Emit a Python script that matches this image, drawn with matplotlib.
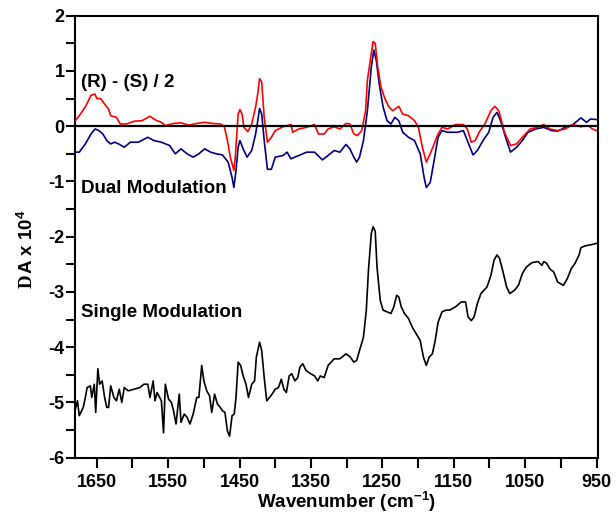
import matplotlib
matplotlib.use("Agg")
import matplotlib.pyplot as plt
import numpy as np

# ---------------- data ----------------
red_wn = [1680, 1674.5, 1666, 1658, 1652.5, 1650, 1644.5, 1639, 1633.5, 1630.5, 1622.5, 1617, 1608.5,
          1597.5, 1586.5, 1575.5, 1567.5, 1559.5, 1554, 1542.5, 1532, 1521, 1510, 1499, 1488, 1477,
          1471.5, 1467, 1463, 1458, 1456, 1452, 1449.5, 1446.5, 1444, 1438.5, 1433, 1427.5, 1424.5,
          1422, 1419, 1415.5, 1411, 1405.5, 1400, 1389, 1378, 1375.5, 1367, 1356, 1345, 1339.5,
          1331.5, 1326, 1317.5, 1309.5, 1301, 1295.5, 1290, 1285, 1279, 1273.5, 1271, 1265.5, 1263,
          1260, 1256.5, 1252, 1246.5, 1241, 1235.5, 1227, 1221.5, 1213.5, 1205, 1199.5, 1194, 1188.5,
          1183, 1177.5, 1172, 1166.5, 1158.5, 1147.5, 1136.5, 1131, 1125.5, 1120, 1114.5, 1106.5,
          1098, 1092.5, 1087, 1079, 1070.5, 1062, 1054, 1043, 1032, 1024, 1015.5, 1004.5, 994, 983,
          972, 961.5, 956, 950]
red_val = [0.10, 0.19, 0.35, 0.56, 0.58, 0.50, 0.50, 0.40, 0.31, 0.19, 0.16, 0.04, 0.04,
           0.09, 0.10, 0.18, 0.11, 0.07, 0.01, 0.05, 0.06, 0.02, 0.05, 0.07, 0.05, 0.04,
           0.00, -0.26, -0.56, -0.80, -0.56, 0.22, 0.30, 0.22, -0.02, -0.10, 0.04, 0.35, 0.59,
           0.86, 0.80, 0.16, -0.29, -0.20, -0.08, -0.01, 0.03, -0.11, -0.05, -0.02, 0.03, -0.14,
           -0.14, -0.05, -0.01, -0.05, 0.05, 0.04, -0.14, -0.17, -0.08, 0.28, 0.83, 1.32, 1.53,
           1.50, 1.07, 0.71, 0.50, 0.35, 0.28, 0.36, 0.22, 0.19, 0.10, -0.02, -0.38, -0.65,
           -0.50, -0.32, -0.14, -0.02, -0.05, 0.03, 0.03, -0.05, -0.29, -0.26, -0.11, 0.04,
           0.28, 0.36, 0.28, -0.11, -0.35, -0.32, -0.20, -0.05, -0.02, 0.03, -0.05, -0.08, -0.05, 0.03,
           -0.01, 0.01, -0.05, -0.08]

blue_wn = [1680, 1674.5, 1666, 1658, 1652.5, 1647, 1641.5, 1636, 1630.5, 1625, 1619.5, 1611.5, 1603,
           1592, 1578.5, 1570, 1559.5, 1548, 1540, 1532, 1523.5, 1515, 1507, 1499, 1490.5, 1482.5,
           1474, 1466, 1460.5, 1458, 1455, 1452, 1449.5, 1445, 1439.5, 1433, 1427.5, 1424.5, 1422,
           1419, 1415.5, 1411, 1405.5, 1400, 1389, 1383.5, 1378, 1367, 1356, 1345, 1334, 1326,
           1317.5, 1309.5, 1301, 1295.5, 1290, 1286, 1282, 1276.5, 1271, 1265.5, 1262, 1258.5,
           1254.5, 1249, 1243.5, 1238, 1232.5, 1227, 1221.5, 1213.5, 1205, 1197, 1191.5, 1188.5,
           1183, 1177.5, 1172, 1166.5, 1158.5, 1145, 1136.5, 1131, 1123, 1117, 1109, 1101, 1095,
           1089.5, 1084.5, 1076, 1070.5, 1062, 1054, 1046, 1035, 1024, 1013, 1004.5, 994, 983,
           972, 964, 958.5, 950]
blue_val = [-0.47, -0.47, -0.32, -0.14, -0.05, -0.08, -0.14, -0.26, -0.32, -0.29, -0.32, -0.38, -0.29,
            -0.29, -0.20, -0.26, -0.29, -0.35, -0.50, -0.41, -0.50, -0.56, -0.50, -0.41, -0.47, -0.50,
            -0.52, -0.65, -0.93, -1.11, -0.80, -0.38, -0.26, -0.41, -0.56, -0.44, -0.14, 0.10, 0.32,
            0.22, -0.26, -0.78, -0.78, -0.56, -0.53, -0.47, -0.59, -0.53, -0.47, -0.47, -0.61, -0.53,
            -0.44, -0.47, -0.33, -0.41, -0.56, -0.65, -0.56, -0.26, 0.28, 1.07, 1.38, 1.19,
            0.77, 0.35, 0.10, 0.04, 0.16, 0.10, -0.11, -0.20, -0.26, -0.50, -0.93, -1.11,
            -1.02, -0.62, -0.20, -0.08, -0.11, -0.11, -0.08, -0.26, -0.52, -0.44, -0.26, -0.11, 0.16,
            0.25, 0.10, -0.26, -0.47, -0.38, -0.26, -0.11, -0.05, -0.02, -0.08, -0.09, -0.02, 0.03,
            0.15, 0.07, 0.13, 0.12]

black_wn = [1680, 1677, 1674.5, 1669, 1666, 1663.5, 1659, 1657, 1653.5, 1651.5, 1648.5, 1646, 1642.5,
            1639, 1636, 1633.5, 1630.5, 1626, 1622.5, 1618.5, 1615, 1611.5, 1606, 1597.5, 1589.5,
            1584, 1578.5, 1575.5, 1571, 1568.5, 1565.5, 1559.5, 1556.5, 1554, 1549.5, 1545.5, 1542.5,
            1539, 1534.5, 1532, 1527.5, 1523.5, 1519.5, 1515, 1510, 1507, 1503, 1500, 1496, 1492,
            1489, 1485, 1481, 1477, 1474, 1470.5, 1467, 1464, 1460.5, 1457.5, 1455, 1452, 1448.5,
            1445, 1441, 1437.5, 1433, 1429, 1426.5, 1422, 1419, 1415.5, 1412, 1408, 1404.5, 1400,
            1395.5, 1391.5, 1388, 1384.5, 1380.5, 1377, 1372.5, 1368.5, 1365.5, 1361.5, 1357, 1350.5,
            1345, 1340.5, 1337, 1331.5, 1326, 1317.5, 1309.5, 1301, 1295.5, 1290, 1286, 1282, 1276.5,
            1272.5, 1269.5, 1265.5, 1263, 1260, 1257.5, 1253, 1249, 1243.5, 1238, 1234, 1230, 1227,
            1223.5, 1219, 1213.5, 1208, 1202.5, 1197, 1192.5, 1188.5, 1184.5, 1180, 1176, 1172,
            1166.5, 1161, 1156, 1147.5, 1139.5, 1133.5, 1130, 1125.5, 1121.5, 1117, 1112, 1103.5,
            1098, 1093.5, 1089.5, 1086, 1081.5, 1076, 1071.5, 1065, 1059.5, 1054, 1048.5, 1040.5,
            1032, 1026.5, 1024, 1020, 1015.5, 1010, 1004.5, 996.5, 991, 985.5, 980, 974.5, 972, 967,
            956, 950]
black_val = [-5.12, -4.97, -5.24, -5.09, -4.91, -4.73, -4.70, -4.91, -4.67, -5.18, -4.39, -4.67, -4.61,
             -4.91, -5.09, -5.09, -4.70, -4.91, -4.97, -4.76, -5.00, -4.73, -4.79, -4.76, -4.73,
             -4.67, -4.67, -4.91, -4.61, -4.97, -4.82, -4.97, -5.55, -4.67, -4.94, -5.00, -5.15,
             -5.39, -4.85, -5.36, -5.21, -5.27, -5.39, -5.21, -4.91, -4.91, -4.33, -4.61, -4.79, -4.88,
             -5.18, -4.85, -5.03, -5.09, -5.15, -5.18, -5.52, -5.61, -5.24, -5.21, -4.91, -4.27, -4.33,
             -4.52, -4.67, -4.91, -4.67, -4.61, -4.18, -3.91, -4.06, -4.55, -4.97, -4.91, -4.85, -4.76,
             -4.73, -4.58, -4.76, -4.82, -4.52, -4.48, -4.61, -4.55, -4.36, -4.30, -4.42, -4.48,
             -4.52, -4.61, -4.52, -4.55, -4.33, -4.21, -4.21, -4.12, -4.17, -4.27, -4.24, -4.06, -3.82,
             -3.33, -2.61, -1.94, -1.82, -1.90, -2.55, -3.15, -3.33, -3.36, -3.39, -3.27, -3.06, -3.09,
             -3.27, -3.39, -3.48, -3.64, -3.76, -3.88, -4.18, -4.33, -4.18, -4.12, -3.88, -3.55,
             -3.36, -3.33, -3.33, -3.27, -3.18, -3.18, -3.45, -3.52, -3.45, -3.21, -3.03, -2.91,
             -2.70, -2.42, -2.33, -2.39, -2.61, -2.91, -3.03, -2.97, -2.88, -2.67, -2.55, -2.47,
             -2.45, -2.52, -2.45, -2.48, -2.58, -2.64, -2.82, -2.88, -2.76, -2.58, -2.48, -2.33, -2.20, -2.17,
             -2.14, -2.12]

x_ticks = [1650, 1550, 1450, 1350, 1250, 1150, 1050, 950]
y_ticks = [-6, -5, -4, -3, -2, -1, 0, 1, 2]

# ---------------- style ----------------
plt.rcParams['font.family'] = ['Liberation Sans', 'DejaVu Sans']
plt.rcParams['font.weight'] = 'bold'
plt.rcParams['axes.unicode_minus'] = False
plt.rcParams['mathtext.fontset'] = 'custom'
plt.rcParams['mathtext.rm'] = 'Liberation Sans:bold'
plt.rcParams['mathtext.bf'] = 'Liberation Sans:bold'
plt.rcParams['mathtext.default'] = 'bf'

W, H = 616, 516
fig = plt.figure(figsize=(W / 100, H / 100), dpi=100)
L, R, T, B = 75, 598, 15.7, 457.7
ax = fig.add_axes([L / W, 1 - B / H, (R - L) / W, (B - T) / H])

ax.plot(blue_wn, blue_val, color='#000080', lw=1.2, zorder=2)
ax.plot(red_wn, red_val, color='#ff0000', lw=1.2, zorder=3)
ax.plot(black_wn, black_val, color='black', lw=1.2, zorder=2)
ax.axhline(0, color='black', lw=1.6, zorder=4)

ax.set_xlim(1680.5, 948)
ax.set_ylim(-6, 2)

ax.set_xticks(np.arange(1650, 940, -50), minor=False)
ax.set_xticklabels([str(int(v)) if int(v) in x_ticks else '' for v in np.arange(1650, 940, -50)])
ax.set_yticks(y_ticks)
ax.set_yticklabels([str(v) for v in y_ticks])
ax.set_yticks(np.arange(-5.5, 2, 1.0), minor=True)

for s in ax.spines.values():
    s.set_linewidth(1.5)
ax.tick_params(axis='both', which='both', direction='out', width=1.5, labelsize=13)
ax.tick_params(axis='x', which='major', length=7, pad=5)
ax.tick_params(axis='y', which='major', length=6.5, pad=1)
ax.tick_params(axis='y', which='minor', length=6.5)
for lab in ax.get_xticklabels() + ax.get_yticklabels():
    lab.set_fontweight('bold')

# annotations
ax.text(1671.5, 0.71, '(R) - (S) / 2', fontsize=13.5, fontweight='bold', va='baseline', ha='left')
ax.text(1671.5, -1.21, 'Dual Modulation', fontsize=13.5, fontweight='bold', va='baseline', ha='left')
ax.text(1671.5, -3.45, 'Single Modulation', fontsize=13.5, fontweight='bold', va='baseline', ha='left')

# axis labels
fig.text(347 / W, 1 - 508 / H, r'Wavenumber (cm$^{-1}$)', fontsize=13.5, fontweight='bold',
         ha='center', va='baseline')
fig.text(27 / W, 1 - 274 / H, r'A x 10$^{4}$', fontsize=13.5, fontweight='bold', rotation=90,
         ha='center', va='bottom')
fig.text(27 / W, 1 - 275 / H, 'D', fontsize=13.5, family='Liberation Serif', rotation=90,
         ha='center', va='top')

fig.savefig('out.png', dpi=100)
